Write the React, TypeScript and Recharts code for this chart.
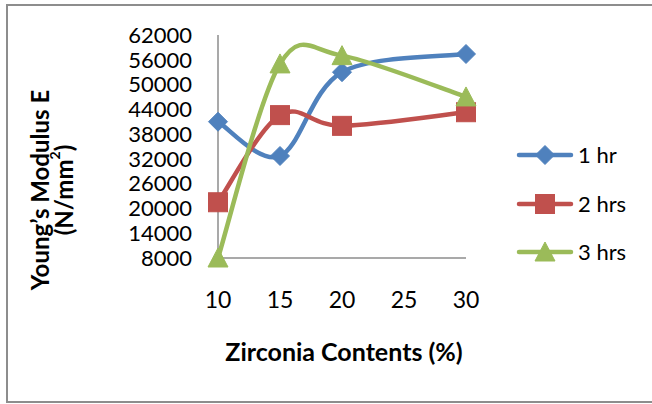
import React from "react";
import { LineChart, Line, XAxis, YAxis, Legend, Label } from "recharts";

// Zirconia content (%) at which Young's modulus was measured
const zirconia = [10, 15, 20, 30];
const xTicks = [10, 15, 20, 25, 30];
const yTicks = [8000, 14000, 20000, 26000, 32000, 38000, 44000, 50000, 56000, 62000];

// Young's modulus E (N/mm²) per sintering time
const oneHr = [41000, 32700, 53000, 57400];
const twoHrs = [21500, 42600, 40000, 43300];
const threeHrs = [8000, 55000, 57000, 47000];

const seriesNames = ["1 hr", "2 hrs", "3 hrs"];
const colors = ["#4F81BD", "#C0504D", "#9BBB59"];

const rows = zirconia.map((x, i) => ({
  x,
  oneHr: oneHr[i],
  twoHrs: twoHrs[i],
  threeHrs: threeHrs[i],
}));

const FONT = "Lato, 'Open Sans', sans-serif";
const AXIS_GREY = "#8c8c8c";

// Spreadsheet-style smoothed line: cubic Bézier segments through every point,
// control points taken from the neighbouring points (Catmull-Rom, 1/6 factor).
function smoothCurve(context: any) {
  let pts: number[][] = [];
  return {
    areaStart() {},
    areaEnd() {},
    lineStart() {
      pts = [];
    },
    point(x: number, y: number) {
      pts.push([+x, +y]);
    },
    lineEnd() {
      if (!pts.length) return;
      context.moveTo(pts[0][0], pts[0][1]);
      for (let i = 0; i < pts.length - 1; i++) {
        const p0 = pts[Math.max(i - 1, 0)];
        const p1 = pts[i];
        const p2 = pts[i + 1];
        const p3 = pts[Math.min(i + 2, pts.length - 1)];
        const c1x = p1[0] + (p2[0] - p0[0]) / 6;
        const c1y = p1[1] + (p2[1] - p0[1]) / 6;
        const c2x = p2[0] - (p3[0] - p1[0]) / 6;
        const c2y = p2[1] - (p3[1] - p1[1]) / 6;
        context.bezierCurveTo(c1x, c1y, c2x, c2y, p2[0], p2[1]);
      }
    },
  };
}

function Marker({ kind, cx, cy, color }: { kind: number; cx: number; cy: number; color: string }) {
  if (kind === 0) {
    const r = 9.5;
    return (
      <polygon
        points={`${cx},${cy - r} ${cx + r},${cy} ${cx},${cy + r} ${cx - r},${cy}`}
        fill={color}
        stroke={color}
        strokeWidth={1}
      />
    );
  }
  if (kind === 1) {
    const s = 9.5;
    return <rect x={cx - s} y={cy - s} width={2 * s} height={2 * s} fill={color} stroke={color} strokeWidth={1} />;
  }
  const w = 10;
  return (
    <polygon
      points={`${cx},${cy - 10} ${cx + w},${cy + 9} ${cx - w},${cy + 9}`}
      fill={color}
      stroke={color}
      strokeWidth={1}
    />
  );
}

const makeDot = (kind: number) => (props: any) => {
  const { cx, cy, index } = props;
  if (cx == null || cy == null) return <g key={`d-${kind}-${index}`} />;
  return (
    <g key={`d-${kind}-${index}`}>
      <Marker kind={kind} cx={cx} cy={cy} color={colors[kind]} />
    </g>
  );
};

function LegendContent() {
  return (
    <div style={{ fontFamily: FONT, fontSize: 22, color: "#000" }}>
      {seriesNames.map((name, i) => (
        <div key={name} style={{ display: "flex", alignItems: "center", height: 48.5 }}>
          <svg width={58} height={24} style={{ display: "block" }}>
            <line x1={3} y1={12} x2={55} y2={12} stroke={colors[i]} strokeWidth={4.5} strokeLinecap="round" />
            <Marker kind={i} cx={29} cy={12} color={colors[i]} />
          </svg>
          <span style={{ marginLeft: 4, lineHeight: "24px" }}>{name}</span>
        </div>
      ))}
    </div>
  );
}

function YTitle() {
  const cy = 190;
  return (
    <g fontFamily={FONT} fontWeight={700} fontSize={24} fill="#000">
      <text x={39} y={cy} transform={`rotate(-90, 39, ${cy})`} textAnchor="middle" dominantBaseline="central">
        Young’s Modulus E
      </text>
      <text x={63} y={cy} transform={`rotate(-90, 63, ${cy})`} textAnchor="middle" dominantBaseline="central">
        (N/mm<tspan baselineShift="super" fontSize={14}>2</tspan>)
      </text>
    </g>
  );
}

function XTitle(props: any) {
  const { viewBox } = props;
  const cx = viewBox.x + viewBox.width / 2 + 2;
  return (
    <text x={cx} y={361} textAnchor="middle" fontFamily={FONT} fontWeight={700} fontSize={25} fill="#000">
      Zirconia Contents (%)
    </text>
  );
}

export default function App() {
  const keys = ["oneHr", "twoHrs", "threeHrs"];
  return (
    <div
      style={{
        position: "absolute",
        left: 0,
        top: 0,
        width: 652,
        height: 404,
        overflow: "hidden",
        background: "#fff",
      }}
    >
      <div
        style={{
          position: "absolute",
          left: 6,
          top: 4,
          width: 700,
          height: 395,
          border: "2px solid #8d8d8d",
        }}
      />
      <LineChart
        width={652}
        height={404}
        data={rows}
        margin={{ top: 35, right: 186, left: 118, bottom: 86 }}
        style={{ position: "absolute", left: 0, top: 0 }}
      >
        <XAxis
          dataKey="x"
          type="number"
          domain={[10, 30]}
          ticks={xTicks}
          interval={0}
          height={60}
          tickLine={false}
          tickSize={0}
          tickMargin={34}
          axisLine={{ stroke: AXIS_GREY, strokeWidth: 1.5 }}
          tick={{ fill: "#000", fontSize: 23, fontFamily: FONT }}
        >
          <Label content={<XTitle />} />
        </XAxis>
        <YAxis
          type="number"
          domain={[8000, 62000]}
          ticks={yTicks}
          interval={0}
          width={100}
          tickLine={false}
          tickSize={0}
          tickMargin={26}
          axisLine={{ stroke: AXIS_GREY, strokeWidth: 1.5 }}
          tick={{ fill: "#000", fontSize: 22, fontFamily: FONT }}
        >
          <Label content={<YTitle />} />
        </YAxis>
        {keys.map((k, i) => (
          <Line
            key={k}
            dataKey={k}
            name={seriesNames[i]}
            type={smoothCurve as any}
            stroke={colors[i]}
            strokeWidth={4.5}
            dot={makeDot(i)}
            activeDot={false}
            isAnimationActive={false}
          />
        ))}
        <Legend
          layout="vertical"
          align="center"
          verticalAlign="middle"
          content={<LegendContent />}
          wrapperStyle={{ position: "absolute", left: 516, top: 131, width: 130 }}
        />
      </LineChart>
    </div>
  );
}
